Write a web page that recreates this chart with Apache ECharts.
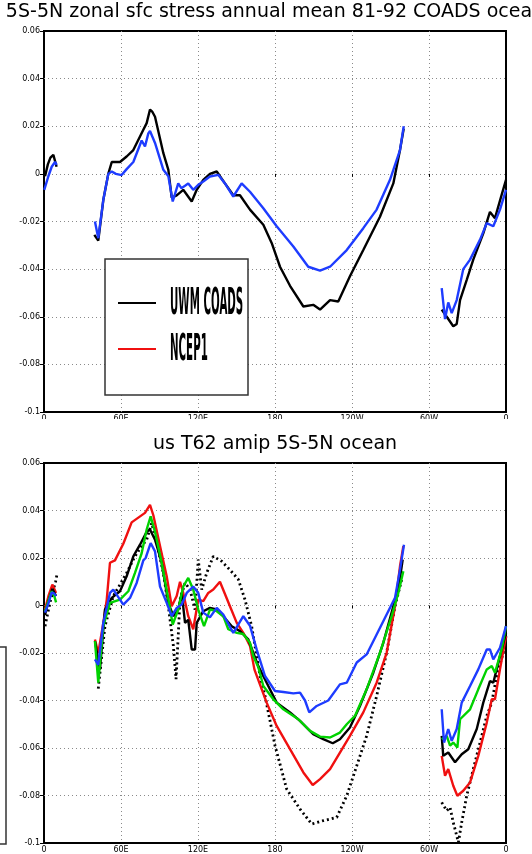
<!DOCTYPE html>
<html>
<head>
<meta charset="utf-8">
<script src="https://cdn.jsdelivr.net/npm/echarts@6/dist/echarts.min.js"></script>
<style>html,body{margin:0;padding:0;background:#fff}#c{width:532px;height:854px}</style>
</head>
<body>
<div id="c"></div>
<script>
// ---- axis ticks / labels ----
const lonTicks = [0, 60, 120, 180, 240, 300, 360];
const lonLabels = ['0', '60E', '120E', '180', '120W', '60W', '0'];
const yTicks = [-0.1, -0.08, -0.06, -0.04, -0.02, 0, 0.02, 0.04, 0.06];
const yLabels = ['-0.1', '-0.08', '-0.06', '-0.04', '-0.02', '0', '0.02', '0.04', '0.06'];

const titleTop = '5S-5N zonal sfc stress annual mean 81-92 COADS ocean';
const titleBottom = 'us T62 amip 5S-5N ocean';
const legendNames = ['UWM COADS', 'NCEP1'];

// ---- top panel (null value = gap over land) ----
const topUwmLon = [0.8, 3, 5, 7.3, 9.8, 25,
  39.2, 42.3, 46.2, 50.1, 52.8, 59.2, 64.4, 69.6, 77.4, 80.0, 82.6, 84.5, 86.5, 93.0, 96.9, 99.5, 103.4, 108.5, 115.1, 119.0, 124.1, 129.3, 134.6, 141.0, 147.5, 152.7, 160.5, 170.9, 177.4, 183.9, 191.7, 202.1, 209.8, 215.1, 222.9, 229.3, 238.4, 248.8, 261.8, 272.2, 277.4, 280.3, 295,
  309.9, 313.8, 318.9, 321.6, 324.2, 329.4, 334.5, 342.3, 347.5, 351.4, 356.6, 360];
const topUwmVal = [-0.001, 0.004, 0.0068, 0.008, 0.003, null,
  -0.0256, -0.028, -0.011, 0.0, 0.005, 0.005, 0.0073, 0.010, 0.0185, 0.0213, 0.027, 0.026, 0.024, 0.0087, 0.0017, -0.010, -0.009, -0.0067, -0.0116, -0.0067, -0.0025, 0.0, 0.001, -0.004, -0.009, -0.009, -0.015, -0.0214, -0.029, -0.039, -0.047, -0.0557, -0.055, -0.057, -0.053, -0.0536, -0.043, -0.032, -0.018, -0.004, 0.010, 0.019, null,
  -0.057, -0.060, -0.064, -0.063, -0.053, -0.0445, -0.036, -0.025, -0.016, -0.0186, -0.0088, -0.0025];

const topBlueLon = [0.2, 3.4, 6, 8.6, 9.9, 25,
  39.7, 42.3, 46.2, 50.1, 52.8, 56, 60.5, 64.4, 69.6, 76.1, 78.7, 81.3, 82.6, 86.5, 93.0, 96.9, 100.3, 104.6, 107, 109.9, 112.4, 116.3, 120.2, 124.1, 129.3, 135.8, 141.0, 147.5, 154.0, 160.5, 170.9, 181.3, 194.3, 205.9, 215.1, 222.9, 235.9, 248.8, 259.2, 269.6, 277.4, 280.3, 295,
  309.9, 312.5, 315.0, 317.7, 321.6, 326.7, 332.0, 339.7, 345.0, 350.1, 355.3, 360];
const topBlueVal = [-0.0067, -0.001, 0.003, 0.005, 0.0038, null,
  -0.020, -0.027, -0.011, 0.0, 0.001, 0.0, -0.0005, 0.002, 0.005, 0.014, 0.0115, 0.017, 0.018, 0.013, 0.0017, -0.001, -0.0116, -0.004, -0.006, -0.005, -0.004, -0.0067, -0.0046, -0.0032, -0.0011, -0.0004, -0.004, -0.0095, -0.004, -0.0075, -0.0144, -0.022, -0.0305, -0.039, -0.0406, -0.039, -0.032, -0.0228, -0.015, -0.0025, 0.010, 0.020, null,
  -0.048, -0.061, -0.054, -0.0585, -0.053, -0.040, -0.036, -0.0277, -0.0207, -0.022, -0.015, -0.0067];

// ---- bottom panel ----
const botDotLon = [0.8, 3, 5, 7, 9, 10.1, 25,
  42.3, 47.5, 54.0, 59.2, 64.4, 70.9, 76.1, 80.0, 83.9, 87.8, 93.0, 96.9, 100.8, 102.9, 106.0, 109.9, 113.8, 117.7, 120.2, 122.9, 126.8, 131.9, 138.5, 144.9, 151.4, 156.6, 161.8, 168.3, 172.2, 180.0, 189.1, 199.5, 208.6, 217.6, 228.1, 235.9, 243.7, 251.4, 259.2, 267.0, 273.5, 278.7, 295,
  309.9, 313.8, 316.4, 318.9, 322.9, 325.5, 329.4, 334.5, 341.1, 345.0, 348.9, 352.7, 357.9, 360];
const botDotVal = [-0.0087, -0.003, 0.002, 0.006, 0.010, 0.013, null,
  -0.035, -0.0087, 0.004, 0.0088, 0.0137, 0.0207, 0.025, 0.0277, 0.0347, 0.0263, 0.0137, -0.0003, -0.017, -0.031, 0.0025, 0.0095, 0.0067, -0.0017, 0.0193, 0.0067, 0.0137, 0.0207, 0.0186, 0.015, 0.011, 0.0025, -0.0087, -0.0297, -0.038, -0.059, -0.0773, -0.0857, -0.092, -0.0906, -0.0892, -0.0801, -0.0675, -0.0549, -0.0381, -0.0199, -0.0003, 0.0109, null,
  -0.0829, -0.0864, -0.085, -0.0913, -0.0997, -0.0913, -0.0801, -0.0689, -0.0549, -0.0465, -0.0409, -0.0297, -0.0199, -0.0129];

const botRedLon = [0.8, 3.5, 6.5, 9.4, 25,
  39.7, 42.3, 46.2, 48.9, 51.4, 55.3, 61.8, 68.3, 73.5, 78.7, 82.6, 85.2, 90.4, 95.6, 99.5, 103.4, 106.0, 108.5, 112.4, 116.3, 120.2, 124.1, 128.0, 131.9, 137.1, 144.9, 150.2, 155.3, 160.5, 164.0, 173.5, 181.3, 191.7, 202.1, 209.4, 215.1, 222.9, 230.6, 238.4, 248.8, 259.2, 267.0, 273.5, 277.4, 280.0, 295,
  309.9, 312.5, 315.0, 318.9, 322.1, 326.7, 332.0, 338.4, 345.0, 348.9, 351.4, 355.3, 360];
const botRedVal = [-0.0017, 0.004, 0.0088, 0.0053, null,
  -0.0143, -0.020, -0.0073, 0.0025, 0.018, 0.019, 0.026, 0.035, 0.037, 0.039, 0.0424, 0.038, 0.025, 0.0123, -0.0003, 0.004, 0.010, 0.0053, -0.0045, -0.010, 0.0025, 0.0018, 0.0053, 0.0067, 0.010, -0.0003, -0.0073, -0.0115, -0.017, -0.027, -0.0409, -0.0507, -0.0605, -0.0703, -0.0756, -0.0731, -0.0689, -0.0619, -0.0549, -0.045, -0.0325, -0.0199, -0.0003, 0.0165, 0.025, null,
  -0.0633, -0.0717, -0.0689, -0.0759, -0.0801, -0.078, -0.0745, -0.0633, -0.0493, -0.0395, -0.0395, -0.0269, -0.0129];

const botBlackLon = [0.8, 3.5, 6.5, 9.4, 25,
  39.7, 43.6, 47.5, 52.8, 59.2, 64.4, 69.6, 74.8, 80.0, 82.6, 86.5, 91.7, 96.9, 100.8, 104.6, 107.3, 109.9, 112.4, 115.1, 117.7, 119.0, 124.1, 129.3, 134.6, 139.7, 146.3, 152.7, 159.2, 167.0, 173.5, 181.3, 191.7, 199.5, 209.8, 217.6, 225.0, 230.6, 238.4, 246.2, 256.6, 264.4, 272.2, 276.1, 279.5, 295,
  309.9, 311.1, 315.0, 320.3, 325.5, 330.6, 337.2, 342.3, 347.5, 350.1, 355.3, 360];
const botBlackVal = [-0.004, 0.002, 0.007, 0.004, null,
  -0.015, -0.027, -0.0017, 0.0032, 0.006, 0.0123, 0.0207, 0.0256, 0.031, 0.032, 0.0277, 0.018, 0.0011, -0.0045, -0.0017, 0.0053, -0.0073, -0.006, -0.0185, -0.0185, -0.0073, -0.0024, -0.001, -0.0017, -0.0045, -0.0087, -0.0108, -0.0143, -0.0255, -0.0325, -0.0409, -0.045, -0.0486, -0.0542, -0.0563, -0.058, -0.0563, -0.0514, -0.0423, -0.0283, -0.0157, -0.0003, 0.0067, 0.0193, null,
  -0.0549, -0.0633, -0.0619, -0.066, -0.0626, -0.0605, -0.052, -0.0409, -0.0318, -0.0325, -0.0213, -0.0115];

const botGreenLon = [0.8, 3.5, 6.0, 8, 9.4, 25,
  39.7, 42.3, 46.2, 51.4, 59.2, 65.7, 70.9, 76.1, 80.0, 83.1, 86.5, 91.7, 96.9, 100.3, 104.6, 108.5, 112.4, 116.3, 120.2, 124.7, 129.3, 134.6, 139.7, 143.6, 150.2, 155.3, 160.5, 163.1, 167.0, 170.9, 178.7, 186.5, 198.2, 207.3, 215.1, 222.9, 230.6, 235.9, 242.3, 251.4, 261.8, 270.9, 276.1, 280.0, 295,
  309.9, 313.8, 316.4, 318.9, 322.1, 324.2, 332.0, 338.4, 345.0, 348.9, 351.4, 356.6, 360];
const botGreenVal = [-0.0025, 0.002, 0.006, 0.004, 0.0013, null,
  -0.015, -0.0325, -0.0087, 0.0011, 0.0025, 0.006, 0.0137, 0.022, 0.032, 0.0375, 0.031, 0.018, 0.0025, -0.008, -0.0017, 0.008, 0.0116, 0.0067, -0.0017, -0.0087, -0.0017, -0.0024, -0.0045, -0.010, -0.0115, -0.012, -0.0157, -0.0213, -0.026, -0.0339, -0.0395, -0.0437, -0.0479, -0.0528, -0.0552, -0.0556, -0.0535, -0.050, -0.0465, -0.0353, -0.0199, -0.0045, 0.0053, 0.0144, null,
  -0.0563, -0.0549, -0.059, -0.0577, -0.0598, -0.0479, -0.0437, -0.0353, -0.0269, -0.0255, -0.0283, -0.0185, -0.0087];

const botBlueLon = [0.8, 3.5, 6.0, 8, 9.4, 25,
  39.7, 42.3, 46.2, 51.4, 54.0, 61.8, 67.0, 72.2, 77.4, 79.2, 83.1, 86.5, 90.4, 95.6, 99.5, 103.4, 107.3, 111.2, 116.3, 120.2, 124.1, 129.3, 134.6, 139.7, 147.5, 155.3, 160.5, 165.7, 172.2, 180.0, 186.5, 194.3, 199.5, 203.4, 206.7, 212.5, 221.5, 230.6, 235.9, 243.7, 251.4, 259.2, 267.0, 273.5, 277.4, 280.5, 295,
  309.9, 311.7, 315.0, 317.7, 321.6, 325.5, 332.0, 338.4, 345.0, 347.5, 350.1, 355.3, 360];
const botBlueVal = [-0.003, 0.001, 0.0055, 0.005, 0.004, null,
  -0.0227, -0.025, -0.0073, 0.0053, 0.0067, 0.0004, 0.0032, 0.0095, 0.019, 0.020, 0.0263, 0.0228, 0.008, 0.0011, -0.0045, -0.001, 0.0004, 0.0053, 0.008, 0.0053, -0.003, -0.005, -0.001, -0.0038, -0.0115, -0.0045, -0.0085, -0.0185, -0.0297, -0.036, -0.0364, -0.037, -0.0367, -0.040, -0.045, -0.0423, -0.040, -0.0332, -0.0325, -0.024, -0.0206, -0.0122, -0.0038, 0.0032, 0.0151, 0.0256, null,
  -0.0437, -0.0577, -0.052, -0.057, -0.052, -0.0409, -0.0339, -0.0269, -0.0185, -0.0185, -0.0227, -0.0178, -0.0087];

const C_BLACK = '#000000', C_BLUE = '#1e3cff', C_RED = '#f01010', C_GREEN = '#00d200';

function pairs(lon, val) {
  return lon.map((x, i) => [x, val[i] === null ? '-' : val[i]]);
}

const chart = echarts.init(document.getElementById('c'), null, {renderer: 'canvas'});

const grids = [
  {left: 44, top: 31, width: 462, height: 381},
  {left: 44, top: 463, width: 462, height: 382}
].map(g => Object.assign(g, {show: true, borderColor: '#000', borderWidth: 2, backgroundColor: 'transparent'}));

function xAx(i) {
  return {
    type: 'value', gridIndex: i, min: 0, max: 360, interval: 60,
    axisLine: {show: false},
    axisTick: {show: true, length: 3, lineStyle: {color: '#000', width: 1}},
    axisLabel: {fontSize: 8, fontFamily: 'DejaVu Sans', color: '#000', margin: 3,
      formatter: v => { const k = lonTicks.indexOf(Math.round(v)); return k >= 0 ? lonLabels[k] : ''; }},
    splitLine: {show: true, showMinLine: false, showMaxLine: false, lineStyle: {color: '#8a8a8a', type: [1, 3], width: 1}}
  };
}
function yAx(i) {
  return {
    type: 'value', gridIndex: i, min: -0.1, max: 0.06, interval: 0.02,
    axisLine: {show: false},
    axisTick: {show: true, length: 4, lineStyle: {color: '#000', width: 1}},
    axisLabel: {fontSize: 8, fontFamily: 'DejaVu Sans', color: '#000', margin: 4,
      formatter: v => { const k = Math.round((v + 0.1) / 0.02); return yLabels[k] !== undefined ? yLabels[k] : ''; }},
    splitLine: {show: true, showMinLine: false, showMaxLine: false, lineStyle: {color: '#8a8a8a', type: [1, 3], width: 1}}
  };
}

function line(name, lon, val, color, gi, dotted) {
  return {
    name, type: 'line', xAxisIndex: gi, yAxisIndex: gi, data: pairs(lon, val),
    symbol: 'none', showSymbol: false, connectNulls: false, animation: false, silent: true,
    lineStyle: dotted ? {color, width: 2.8, type: [2, 3], cap: 'butt'} : {color, width: 2.4},
    itemStyle: {color}
  };
}

const option = {
  backgroundColor: '#ffffff',
  animation: false,
  title: [
    {text: titleTop, left: 275, top: 3, padding: 0, textAlign: 'center',
      textStyle: {fontFamily: 'DejaVu Sans', fontSize: 19, fontWeight: 'normal', color: '#000'}},
    {text: titleBottom, left: 275, top: 435, padding: 0, textAlign: 'center',
      textStyle: {fontFamily: 'DejaVu Sans', fontSize: 19, fontWeight: 'normal', color: '#000'}}
  ],
  grid: grids,
  xAxis: [xAx(0), xAx(1)],
  yAxis: [yAx(0), yAx(1)],
  series: [
    line('UWM COADS', topUwmLon, topUwmVal, C_BLACK, 0, false),
    line('top blue', topBlueLon, topBlueVal, C_BLUE, 0, false),
    line('bottom dotted', botDotLon, botDotVal, C_BLACK, 1, true),
    line('bottom red', botRedLon, botRedVal, C_RED, 1, false),
    line('bottom black', botBlackLon, botBlackVal, C_BLACK, 1, false),
    line('bottom green', botGreenLon, botGreenVal, C_GREEN, 1, false),
    line('bottom blue', botBlueLon, botBlueVal, C_BLUE, 1, false)
  ],
  graphic: [
    // hide the lower half of top-panel x labels (as in the reference)
    {type: 'rect', z: 100, shape: {x: 0, y: 419, width: 532, height: 13}, style: {fill: '#fff'}},
    // legend (top panel)
    {type: 'rect', z: 100, shape: {x: 105, y: 259, width: 143, height: 136}, style: {fill: '#fff', stroke: '#333', lineWidth: 1.5}},
    {type: 'line', z: 101, shape: {x1: 118, y1: 303, x2: 156, y2: 303}, style: {stroke: C_BLACK, lineWidth: 2}},
    {type: 'line', z: 101, shape: {x1: 118, y1: 349, x2: 156, y2: 349}, style: {stroke: C_RED, lineWidth: 2}},
    {type: 'text', z: 101, x: 170, y: 304, scaleX: 0.27, style: {text: legendNames[0], font: 'bold 38px "DejaVu Sans"', fill: '#000', verticalAlign: 'middle'}},
    {type: 'text', z: 101, x: 170, y: 350, scaleX: 0.27, style: {text: legendNames[1], font: 'bold 38px "DejaVu Sans"', fill: '#000', verticalAlign: 'middle'}},
    // legend box of bottom panel (cut off at left)
    {type: 'rect', z: 100, shape: {x: -150, y: 647, width: 156, height: 197}, style: {fill: '#fff', stroke: '#333', lineWidth: 1.5}}
  ]
};
chart.setOption(option);
</script>
</body>
</html>
